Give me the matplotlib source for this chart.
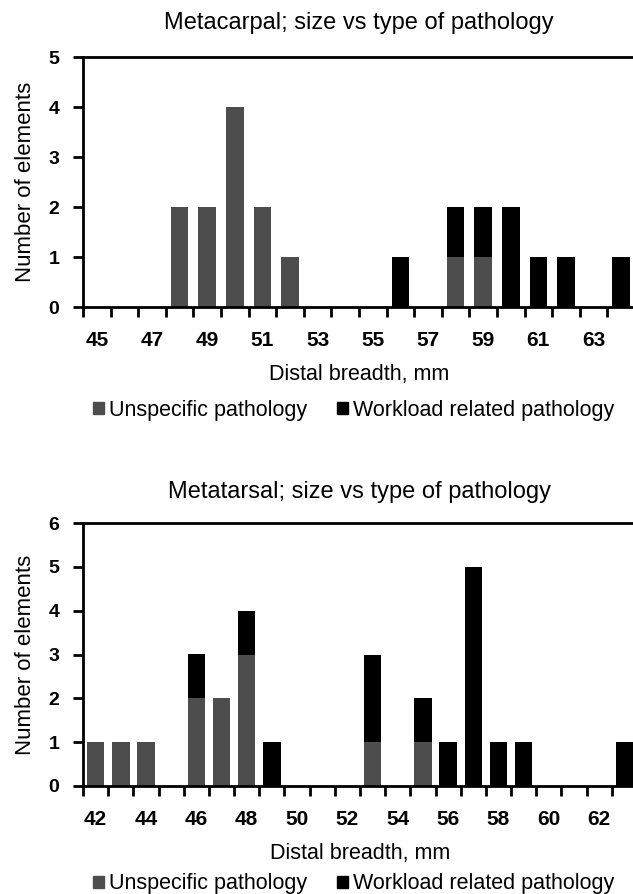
import matplotlib
matplotlib.use('Agg')
import matplotlib.pyplot as plt
from matplotlib.patches import Patch

plt.rcParams['font.family'] = ['Liberation Sans', 'DejaVu Sans']

# Данные: метакарпальные кости
mc_sizes = [45, 46, 47, 48, 49, 50, 51, 52, 53, 54, 55, 56, 57, 58, 59, 60, 61, 62, 63, 64]
mc_unspecific = [0, 0, 0, 2, 2, 4, 2, 1, 0, 0, 0, 0, 0, 1, 1, 0, 0, 0, 0, 0]
mc_workload = [0, 0, 0, 0, 0, 0, 0, 0, 0, 0, 0, 1, 0, 1, 1, 2, 1, 1, 0, 1]

# Данные: метатарсальные кости
mt_sizes = [42, 43, 44, 45, 46, 47, 48, 49, 50, 51, 52, 53, 54, 55, 56, 57, 58, 59, 60, 61, 62, 63]
mt_unspecific = [1, 1, 1, 0, 2, 2, 3, 0, 0, 0, 0, 1, 0, 1, 0, 0, 0, 0, 0, 0, 0, 0]
mt_workload = [0, 0, 0, 0, 1, 0, 1, 1, 0, 0, 0, 2, 0, 1, 1, 5, 1, 1, 0, 0, 0, 1]

series_names = ['Unspecific pathology', 'Workload related pathology']
gray = '#4d4d4d'
black = '#000000'

W, H = 633, 894
fig = plt.figure(figsize=(W / 100, H / 100), dpi=100)


def draw_panel(rect, sizes, unspec, work, ymax, title, width, legend_y, title_pad):
    ax = fig.add_axes(rect)
    x = list(range(len(sizes)))
    ax.bar(x, unspec, width=width, color=gray, zorder=2)
    ax.bar(x, work, width=width, bottom=unspec, color=black, zorder=2)

    ax.set_xlim(-0.5, len(sizes) - 0.5)
    ax.set_ylim(0, ymax)

    # подписи через одну категорию, штрихи на границах категорий
    ax.set_xticks(x[::2])
    ax.set_xticklabels([str(s) for s in sizes[::2]], fontsize=15, fontweight='bold')
    ax.set_xticks([i - 0.5 for i in x] + [len(sizes) - 0.5], minor=True)
    ax.tick_params(axis='x', which='major', length=0, pad=17)
    ax.tick_params(axis='x', which='minor', length=7, width=2, direction='out')

    ax.set_yticks(range(ymax + 1))
    ax.set_yticklabels([str(v) for v in range(ymax + 1)], fontsize=14, fontweight='bold')
    ax.tick_params(axis='y', length=7, width=2, direction='out', pad=10)

    for side in ['left', 'bottom', 'top']:
        ax.spines[side].set_linewidth(2)
    ax.spines['right'].set_visible(False)

    ax.set_title(title, fontsize=17, pad=title_pad)
    ax.set_xlabel('Distal breadth, mm', fontsize=15.5, labelpad=10)
    ax.set_ylabel('Number of elements', fontsize=16, labelpad=9)

    handles = [Patch(color=gray), Patch(color=black)]
    fig.legend(handles, series_names, loc='center', ncol=2, frameon=False,
               bbox_to_anchor=(0.559, legend_y),
               prop={'size': 15.5},
               handlelength=0.5, handleheight=0.5, handletextpad=0.25,
               columnspacing=1.4)
    return ax


draw_panel([83 / W, 1 - 307 / H, 552 / W, 250 / H], mc_sizes, mc_unspecific, mc_workload,
           5, 'Metacarpal; size vs type of pathology', 0.64, 1 - 410 / H, 20)
draw_panel([83 / W, 1 - 786 / H, 554 / W, 263 / H], mt_sizes, mt_unspecific, mt_workload,
           6, 'Metatarsal; size vs type of pathology', 0.7, 1 - 884 / H, 18)

fig.savefig('out.png', dpi=100)
